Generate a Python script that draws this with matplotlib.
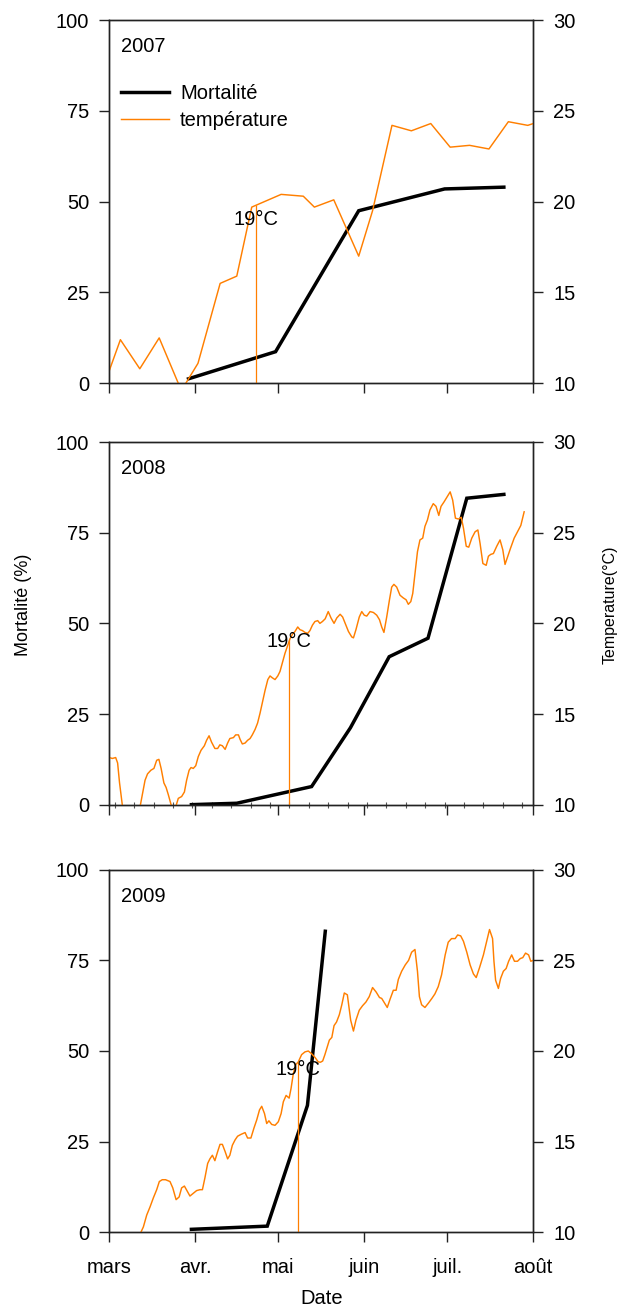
import numpy as np
import pandas as pd
import matplotlib
matplotlib.use("Agg")
import matplotlib.pyplot as plt
import matplotlib.dates as mdates
from matplotlib.lines import Line2D
from matplotlib.ticker import FuncFormatter

plt.rcParams['font.family'] = ['Liberation Sans', 'DejaVu Sans']

ORANGE = '#ff7f00'

years = [2007, 2008, 2009]

# Water temperature (°C); days counted from 1 March
temp07_day = [0, 4, 11, 18, 26, 32, 40, 46, 51.4, 62, 70, 74, 81, 90, 95, 102,
              109, 116, 123, 130, 137, 144, 151, 153]
temp07 = [10.7, 12.4, 10.8, 12.5, 9.6, 11.1, 15.5, 15.9, 19.7, 20.4, 20.3, 19.7,
          20.1, 17.0, 19.5, 24.2, 23.9, 24.3, 23.0, 23.1, 22.9, 24.4, 24.2, 24.3]

temp08_day = [0, 1.1, 2.3, 3.0, 3.7, 5.5, 8.0, 10.5, 12.9, 13.8, 15.0, 16.1, 17.1,
              17.9, 18.7, 19.7, 20.5, 21.3, 23.2, 24.9, 26.1, 27.1, 27.9, 28.8,
              29.5, 30.3, 31.2, 32.1, 33.1, 34.3, 35.1, 36.0, 36.9, 38.1, 39.1,
              39.9, 40.8, 41.8, 42.7, 43.5, 44.8, 45.6, 46.6, 47.2, 48.0, 49.0,
              49.9, 50.8, 51.6, 52.6, 53.5, 54.4, 55.2, 56.2, 57.2, 58.0, 58.8,
              59.8, 60.8, 61.6, 62.4, 63.4, 64.4, 65.2, 66.1, 67.0, 68.0, 68.8,
              69.7, 70.6, 71.6, 72.4, 73.3, 74.2, 75.2, 76.0, 76.9, 77.9, 79.0,
              80.0, 81.1, 82.1, 83.3, 84.2, 85.1, 86.3, 87.5, 88.1, 89.0, 90.2,
              91.1, 92.0, 92.9, 94.1, 95.3, 96.5, 97.5, 98.3, 99.1, 100.1, 101.1,
              101.9, 102.7, 103.7, 104.9, 106.1, 107.1, 107.9, 108.8, 109.5,
              110.3, 111.2, 112.1, 113.1, 113.9, 114.8, 115.7, 116.9, 117.9,
              118.9, 119.7, 120.8, 122.0, 123.0, 123.9, 124.9, 126.0, 127.0,
              127.8, 128.8, 129.7, 130.8, 132.0, 133.0, 133.8, 134.8, 136.0,
              136.8, 137.6, 138.6, 139.8, 141.0, 142.0, 142.8, 143.8, 144.8,
              146.1, 147.3, 148.5, 149.7]
temp08 = [12.6, 12.55, 12.6, 12.3, 11.2, 9.0, 8.8, 9.4, 11.35, 11.7, 11.9, 12.0,
          12.45, 12.5, 12.0, 11.2, 10.95, 10.55, 9.5, 10.35, 10.45, 10.7, 11.35,
          11.9, 12.05, 12.0, 12.15, 12.65, 13.0, 13.25, 13.55, 13.8, 13.45, 13.1,
          13.1, 13.3, 13.25, 13.05, 13.4, 13.65, 13.7, 13.85, 13.85, 13.6, 13.35,
          13.4, 13.55, 13.65, 13.85, 14.15, 14.5, 15.05, 15.6, 16.3, 16.9, 17.1,
          17.0, 16.9, 17.1, 17.35, 17.8, 18.35, 18.8, 19.15, 19.4, 19.55, 19.8,
          19.65, 19.6, 19.5, 19.45, 19.6, 19.9, 20.1, 20.15, 20.0, 20.1, 20.25,
          20.65, 20.3, 20.0, 20.3, 20.5, 20.35, 20.0, 19.55, 19.25, 19.2, 19.65,
          20.35, 20.65, 20.45, 20.4, 20.65, 20.6, 20.45, 20.2, 19.8, 19.5, 20.35,
          21.3, 22.0, 22.15, 22.0, 21.55, 21.4, 21.3, 21.05, 21.2, 21.65, 22.75,
          23.95, 24.6, 24.7, 25.35, 25.7, 26.25, 26.6, 26.45, 25.95, 26.45, 26.7,
          27.0, 27.25, 26.8, 25.8, 25.75, 25.85, 25.25, 24.25, 24.2, 24.7, 25.05,
          25.15, 24.4, 23.3, 23.2, 23.7, 23.8, 23.85, 24.25, 24.6, 24.05, 23.25,
          23.7, 24.15, 24.7, 25.05, 25.4, 26.15]

temp09_day = [10.5, 12.3, 13.5, 14.7, 15.9, 17.1, 18.05, 19.1, 20.3, 21.9, 22.9,
              24.1, 25.2, 26.1, 27.1, 28.2, 29.1, 30.3, 31.5, 32.7, 33.6, 34.5,
              35.5, 36.3, 37.2, 38.1, 39.1, 39.95, 40.8, 41.8, 42.7, 43.5, 44.4,
              45.4, 46.3, 47.5, 49.0, 49.9, 51.1, 52.2, 53.2, 54.2, 55.0, 56.0,
              56.8, 57.6, 58.6, 59.8, 61.0, 62.0, 62.8, 63.8, 64.9, 65.6, 66.4,
              67.3, 68.2, 69.4, 70.6, 71.8, 73.0, 74.2, 75.4, 76.2, 77.0, 77.8,
              78.7, 79.4, 80.3, 81.1, 82.0, 83.0, 83.9, 84.8, 85.9, 87.1, 88.1,
              89.0, 90.2, 91.4, 92.6, 93.8, 95.0, 96.3, 97.5, 98.3, 99.3, 100.3,
              101.3, 102.5, 103.5, 104.3, 105.5, 106.8, 108.0, 109.1, 110.3,
              111.2, 111.9, 112.7, 113.9, 115.2, 116.4, 117.5, 118.7, 119.9,
              121.2, 122.3, 123.5, 124.8, 125.7, 126.8, 127.8, 129.0, 130.2,
              131.4, 132.4, 133.6, 135.0, 136.2, 137.2, 138.3, 138.8, 139.4,
              140.4, 141.2, 142.2, 143.2, 144.1, 145.2, 146.2, 147.3, 148.3,
              149.2, 150.2, 151.3, 152.1, 153.0]
temp09 = [9.7, 10.3, 10.95, 11.4, 11.9, 12.35, 12.8, 12.9, 12.9, 12.8, 12.45, 11.8,
          11.95, 12.45, 12.55, 12.25, 12.0, 12.15, 12.3, 12.35, 12.35, 13.0, 13.8,
          14.05, 14.25, 13.95, 14.45, 14.85, 14.85, 14.45, 14.05, 14.25, 14.8,
          15.1, 15.3, 15.4, 15.5, 15.2, 15.2, 15.75, 16.2, 16.75, 16.95, 16.55,
          16.0, 16.15, 15.95, 15.9, 16.1, 16.55, 17.2, 17.55, 17.4, 17.95, 18.75,
          19.25, 19.4, 19.8, 19.95, 20.0, 19.85, 19.65, 19.4, 19.38, 19.45, 19.8,
          20.25, 20.6, 20.75, 21.4, 21.6, 22.0, 22.55, 23.2, 23.1, 21.7, 21.1,
          21.7, 22.25, 22.5, 22.7, 23.0, 23.5, 23.25, 22.95, 22.9, 22.65, 22.4,
          22.85, 23.35, 23.35, 23.95, 24.4, 24.75, 25.0, 25.45, 25.6, 24.4, 23.0,
          22.55, 22.4, 22.65, 22.9, 23.15, 23.55, 24.2, 25.3, 26.0, 26.2, 26.2,
          26.4, 26.35, 26.05, 25.45, 24.75, 24.25, 24.05, 24.6, 25.3, 26.05, 26.7,
          26.2, 24.95, 23.9, 23.45, 24.0, 24.4, 24.55, 24.95, 25.3, 24.95, 24.95,
          25.1, 25.15, 25.4, 25.3, 24.95, 25.0]

# Cumulative mortality (%)
mort07_day = [28, 60, 90, 121, 143]
mort07 = [1.1, 8.7, 47.5, 53.5, 54.0]
mort08_day = [29, 46, 73, 87, 101, 115, 129, 143]
mort08 = [0, 0.4, 5.0, 21.2, 40.8, 45.9, 84.5, 85.6]
mort09_day = [29, 57, 71.5, 78]
mort09 = [0.8, 1.7, 35.0, 83.5]

# Day on which the 19 °C threshold was reached
threshold_day = [53, 65, 68]
threshold_temp = 19

mort_ticks = [0, 25, 50, 75, 100]
temp_ticks = [10, 15, 20, 25, 30]
month_names = {3: 'mars', 4: 'avr.', 5: 'mai', 6: 'juin', 7: 'juil.', 8: 'août'}

series = [
    (temp07_day, temp07, mort07_day, mort07),
    (temp08_day, temp08, mort08_day, mort08),
    (temp09_day, temp09, mort09_day, mort09),
]


def to_dates(year, days):
    start = pd.Timestamp(f'{year}-03-01')
    return np.asarray(start + pd.to_timedelta(np.asarray(days, dtype=float), unit='D'))


W, H = 622, 1316
fig = plt.figure(figsize=(W / 100, H / 100), dpi=100)

panel_px = [(20.0, 383.3), (442.0, 804.7), (869.7, 1232.3)]
x0_px, x1_px = 109.3, 533.3
FS = 14.5
spine_col = '#222222'
MORT_LW = 2.5
TEMP_LW = 1.05

axes = []
for i, (year, (td, tv, md, mv)) in enumerate(zip(years, series)):
    top, bot = panel_px[i]
    ax = fig.add_axes([x0_px / W, 1 - bot / H, (x1_px - x0_px) / W, (bot - top) / H])
    ax2 = ax.twinx()
    axes.append(ax)

    ax.plot(to_dates(year, md), mv, color='black', lw=MORT_LW, solid_capstyle='butt',
            solid_joinstyle='miter')
    ax2.plot(to_dates(year, td), tv, color=ORANGE, lw=TEMP_LW)

    tday = threshold_day[i]
    t_top = np.interp(tday, td, tv)
    tdate = to_dates(year, [tday])[0]
    ax2.vlines(tdate, 10, t_top, color=ORANGE, lw=0.9)
    ax2.text(tdate, threshold_temp, '19°C', ha='center', va='center', fontsize=FS)

    ax.set_ylim(0, 100)
    ax.set_yticks(mort_ticks)
    ax2.set_ylim(10, 30)
    ax2.set_yticks(temp_ticks)
    ax.set_xlim(pd.Timestamp(f'{year}-03-01'), pd.Timestamp(f'{year}-08-01'))
    ax.xaxis.set_major_locator(mdates.MonthLocator())
    ax.xaxis.set_major_formatter(
        FuncFormatter(lambda v, pos: month_names[mdates.num2date(v).month]))

    for a in (ax, ax2):
        for s in a.spines.values():
            s.set_color(spine_col)
            s.set_linewidth(1.0)
        a.tick_params(direction='out', length=7.5, width=1.0, color=spine_col,
                      labelsize=FS, pad=7)
    ax.tick_params(axis='x', pad=11)
    if i < 2:
        ax.tick_params(axis='x', labelbottom=False)
    if i == 1:
        ax.xaxis.set_minor_locator(mdates.WeekdayLocator(byweekday=mdates.MO))
        ax.tick_params(axis='x', which='minor', direction='inout', length=4,
                       width=0.8, color='#555555')

    ax.text(0.027, 0.9265, str(year), transform=ax.transAxes, ha='left',
            va='center', fontsize=FS)

    if i == 0:
        handles = [Line2D([], [], color='black', lw=MORT_LW),
                   Line2D([], [], color=ORANGE, lw=TEMP_LW)]
        ax2.legend(handles, ['Mortalité', 'température'], loc='upper left',
                   bbox_to_anchor=(0.027, 0.824), frameon=False, fontsize=FS,
                   handlelength=2.4, handletextpad=0.55, labelspacing=0.38,
                   borderpad=0, borderaxespad=0)

fig.text(24 / W, 1 - 605 / H, 'Mortalité (%)', rotation=90, ha='center',
         va='center', fontsize=13)
fig.text(609.7 / W, 1 - 605 / H, 'Temperature(°C)', rotation=90, ha='center',
         va='center', fontsize=11.5)
fig.text(0.5 * (x0_px + x1_px) / W, 1 - 1298 / H, 'Date', ha='center',
         va='center', fontsize=FS)

fig.savefig('out.png', dpi=100)
